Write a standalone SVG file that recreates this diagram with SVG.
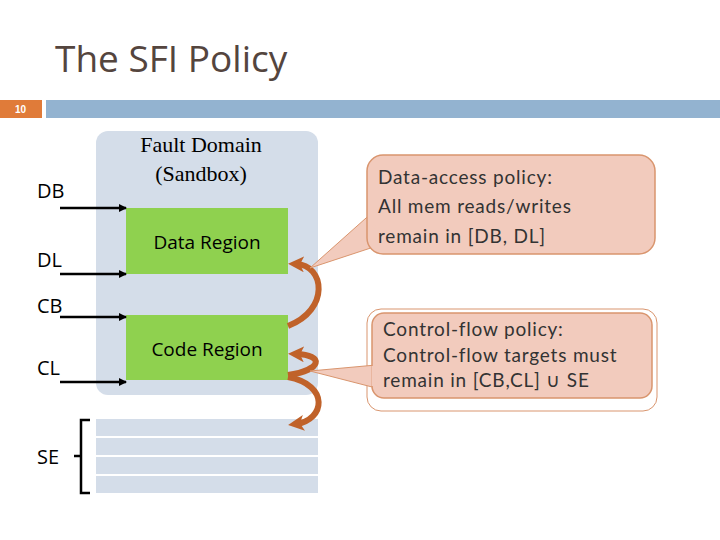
<svg xmlns="http://www.w3.org/2000/svg" width="720" height="540" viewBox="0 0 720 540">
<defs>
<marker id="ah" markerWidth="8" markerHeight="8" refX="7" refY="4" orient="auto" markerUnits="userSpaceOnUse"><path d="M0,0 L8,4 L0,8 Z" fill="#000"/></marker>
<marker id="oh" markerWidth="16" markerHeight="16" refX="8" refY="8" orient="auto" markerUnits="userSpaceOnUse"><path d="M0,0 L16,8 L0,16 L4,8 Z" fill="#c0622a"/></marker>
</defs>
<style>
.lbl{font-family:"Open Sans","Liberation Sans",sans-serif;font-size:20px;fill:#000}
.reg{font-family:"Open Sans","Liberation Sans",sans-serif;font-size:19px;fill:#000;text-anchor:middle}
.ser{font-family:"Liberation Serif",serif;font-size:22px;fill:#000;text-anchor:middle}
.co{font-family:"Lato","Liberation Sans",sans-serif;font-size:19px;fill:#333;letter-spacing:0.8px}
.ar{stroke:#000;stroke-width:2.5;fill:none;marker-end:url(#ah)}
.cv{stroke:#c0622a;stroke-width:6;fill:none;marker-end:url(#oh)}
.se{fill:#d4dde9}
</style>
<rect width="720" height="540" fill="#fff"/>
<text x="55" y="72" font-family="Open Sans, Liberation Sans, sans-serif" font-size="37" fill="#54453e">The SFI Policy</text>
<rect x="0" y="100" width="42" height="18" fill="#e07b39"/>
<text x="15" y="113" font-family="Liberation Sans, sans-serif" font-size="10" font-weight="bold" fill="#fff">10</text>
<rect x="46" y="100" width="674" height="18" fill="#93b3d0"/>
<g id="fault-domain">
<rect x="96" y="131" width="222" height="264" rx="12" fill="#d4dde9"/>
<text class="ser" x="201" y="152">Fault Domain</text>
<text class="ser" x="201" y="181">(Sandbox)</text>
</g>
<g id="data-region"><rect x="126" y="208" width="162" height="66" fill="#8fd14f"/><text class="reg" x="207" y="249">Data Region</text></g>
<g id="code-region"><rect x="126" y="315" width="162" height="65" fill="#8fd14f"/><text class="reg" x="207" y="356">Code Region</text></g>
<g id="se">
<rect class="se" x="96" y="419" width="222" height="17"/>
<rect class="se" x="96" y="438" width="222" height="17"/>
<rect class="se" x="96" y="457" width="222" height="17"/>
<rect class="se" x="96" y="476" width="222" height="17"/>
<path d="M90,420 L81,420 L81,493 L90,493 M81,456 L74,456" stroke="#000" stroke-width="2.5" fill="none"/>
</g>
<g id="labels">
<text class="lbl" x="37" y="198">DB</text>
<text class="lbl" x="37" y="267">DL</text>
<text class="lbl" x="37" y="313">CB</text>
<text class="lbl" x="37" y="375">CL</text>
<text class="lbl" x="37" y="464">SE</text>
</g>
<g id="connectors">
<line class="ar" x1="60" y1="208" x2="126" y2="208"/>
<line class="ar" x1="60" y1="274" x2="126" y2="274"/>
<line class="ar" x1="60" y1="317" x2="126" y2="317"/>
<line class="ar" x1="60" y1="382" x2="126" y2="382"/>
<path class="cv" d="M288,326 C330,310 325,265 296,264"/>
<path class="cv" d="M288,375 C322,370 325,355 296,354"/>
<path class="cv" d="M288,377 C330,385 325,420 296,424"/>
</g>
<g id="callout-data">
<path d="M375,210 L310,268 L395,240 Z" fill="#f2cbbd" stroke="#d9956e"/>
<rect x="367" y="155" width="288" height="99" rx="16" fill="#f2cbbd" stroke="#d9956e" stroke-width="1.5"/>
<path d="M372,225 L395,240" stroke="#f2cbbd" stroke-width="3"/>
<text class="co" x="378" y="184">Data-access policy:</text>
<text class="co" x="378" y="213">All mem reads/writes</text>
<text class="co" x="378" y="243">remain in [DB, DL]</text>
</g>
<g id="callout-control">
<rect x="367" y="309" width="290" height="102" rx="14" fill="none" stroke="#d9956e" stroke-width="1"/>
<path d="M376,365 L310,371 L376,388 Z" fill="#f2cbbd" stroke="#d9956e"/>
<rect x="372" y="313" width="280" height="85" rx="12" fill="#f2cbbd" stroke="#d9956e" stroke-width="1.5"/>
<path d="M373,366 L373,386" stroke="#f2cbbd" stroke-width="3"/>
<text class="co" x="383" y="336" font-size="18">Control-flow policy:</text>
<text class="co" x="383" y="362" font-size="18">Control-flow targets must</text>
<text class="co" x="383" y="387" font-size="18">remain in [CB,CL] ∪ SE</text>
</g>
</svg>
